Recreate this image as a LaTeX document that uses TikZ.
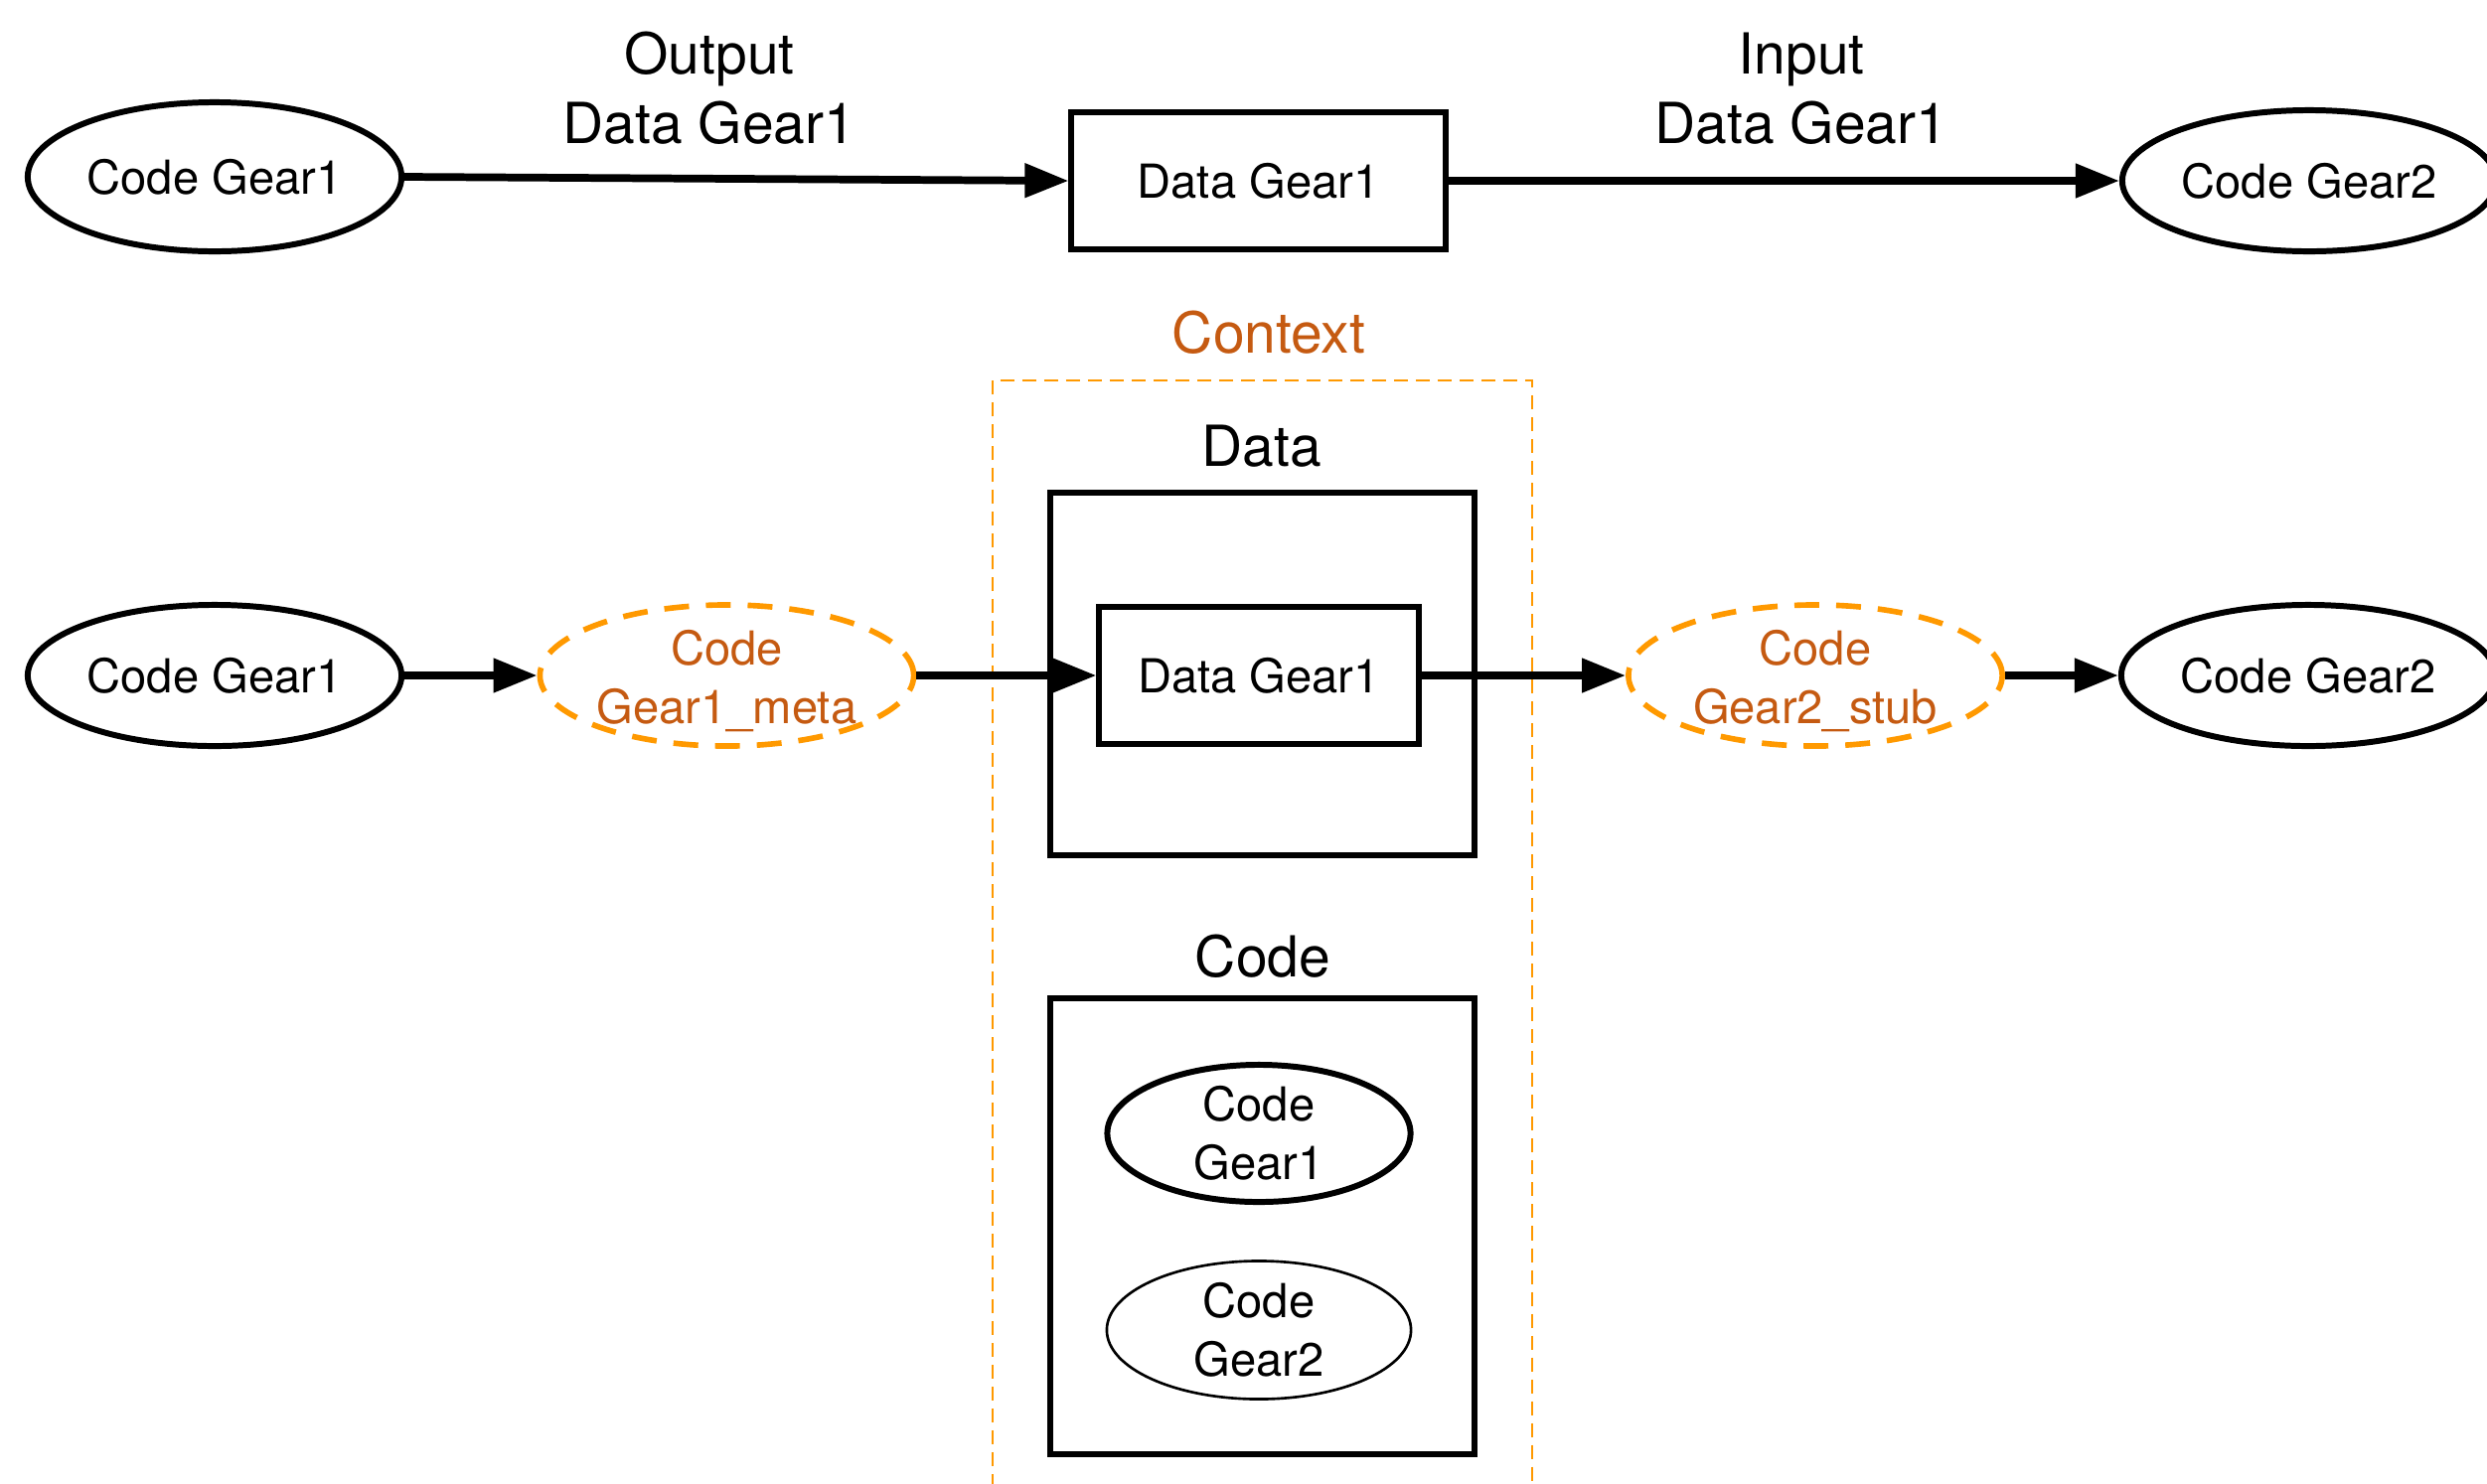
\documentclass[tikz,border=0pt]{standalone}
\usepackage{fontspec}
\setmainfont{TeX Gyre Heros}
\usetikzlibrary{shapes.geometric,arrows.meta}
\definecolor{otext}{RGB}{197,90,17}
\definecolor{oline}{RGB}{255,153,0}
\tikzset{
  sm/.style={font=\fontsize{13.4pt}{16.8pt}\selectfont},
  lg/.style={font=\fontsize{16.2pt}{19.9pt}\selectfont},
  ell/.style={ellipse, draw, line width=1.7pt, inner xsep=0pt, inner ysep=-4pt,
    minimum width=3.76cm, minimum height=1.42cm, sm, align=center},
  boxn/.style={rectangle, draw, line width=1.7pt, inner sep=0pt, sm},
  oell/.style={ellipse, draw=oline, dash pattern=on 0.25cm off 0.17cm, line width=1.6pt,
    inner xsep=0pt, inner ysep=-4pt, minimum width=3.76cm, minimum height=1.42cm,
    sm, text=otext, align=center},
  arr/.style={-{Triangle[length=0.44cm,width=0.33cm]}, line width=2.2pt},
  lbl/.style={lg, align=center},
  ctxframe/.style={draw=oline, line width=0.8pt, dash pattern=on 0.14cm off 0.08cm},
}
\begin{document}
\begin{tikzpicture}[x=0.01cm,y=-0.01cm]
\useasboundingbox (0,0) rectangle (2503,1493);

% top row
\node[ell, minimum height=1.5cm] (tcg1) at (216,178) {Code Gear1};
\node[boxn, minimum width=3.76cm, minimum height=1.38cm] (tdg1) at (1266.5,182) {Data Gear1};
\node[ell] (tcg2) at (2324,182) {Code Gear2};
\node[lbl] (outlbl) at (714,89) {Output\\Data Gear1};
\node[lbl] (inlbl) at (1813,89) {Input\\Data Gear1};
\draw[arr] (tcg1.east) -- (tdg1.west);
\draw[arr] (tdg1.east) -- (tcg2.west);

% context frame
\node[lg, text=otext] (ctxlbl) at (1277,335) {Context};
\draw[ctxframe] (999,1520) -- (999,383) -- (1542,383) -- (1542,1520);

% data box
\node[lg] (datalbl) at (1270,449) {Data};
\node[boxn, minimum width=4.26cm, minimum height=3.64cm] (databox) at (1270.5,678.5) {};
\node[boxn, minimum width=3.21cm, minimum height=1.38cm] (idg1) at (1267,680) {Data Gear1};

% code box
\node[lg] (codelbl) at (1271,963) {Code};
\node[boxn, minimum width=4.26cm, minimum height=4.58cm] (codebox) at (1270.5,1234.5) {};
\node[ell, minimum width=3.05cm, minimum height=1.38cm] (ccg1) at (1267,1141) {Code\\Gear1};
\node[ell, line width=0.75pt, minimum width=3.06cm, minimum height=1.39cm] (ccg2) at (1267,1339) {Code\\Gear2};

% middle row
\node[ell] (mcg1) at (216,680) {Code Gear1};
\node[oell] (meta) at (731.5,680) {\rule{0pt}{0.47cm}Code\\Gear1\_meta};
\node[oell] (stub) at (1827,680) {\rule{0pt}{0.47cm}Code\\Gear2\_stub};
\node[ell] (mcg2) at (2323,680) {Code Gear2};
\draw[arr] (mcg1.east) -- (meta.west);
\draw[arr] (meta.east) -- (idg1.west);
\draw[arr] (idg1.east) -- (stub.west);
\draw[arr] (stub.east) -- (mcg2.west);
\end{tikzpicture}
\end{document}
